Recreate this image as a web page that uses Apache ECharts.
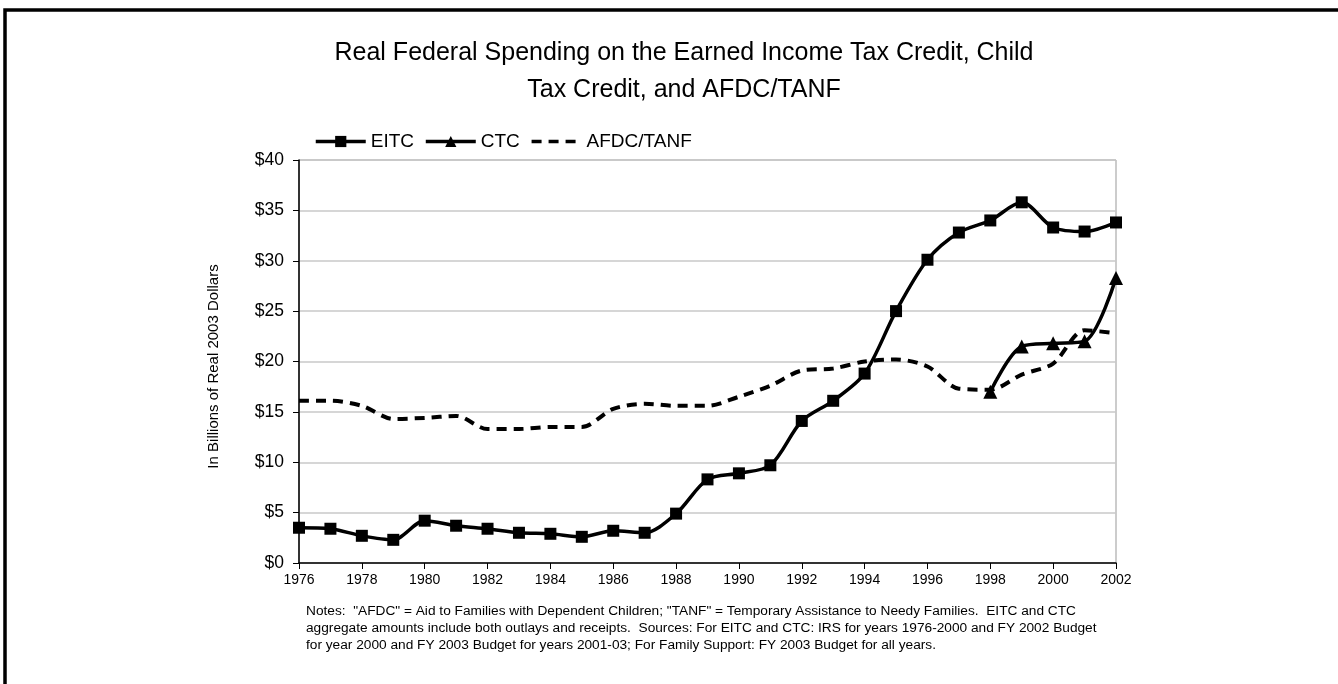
<!DOCTYPE html>
<html>
<head>
<meta charset="utf-8">
<script src="https://cdn.jsdelivr.net/npm/echarts@6/dist/echarts.min.js"></script>
<style>
html,body{margin:0;padding:0;background:#fff;}
#c{width:1338px;height:684px;}
</style>
</head>
<body>
<div id="c"></div>
<script>
const years = ['1976','1977','1978','1979','1980','1981','1982','1983','1984','1985','1986','1987','1988','1989','1990','1991','1992','1993','1994','1995','1996','1997','1998','1999','2000','2001','2002'];
const eitc = [3.5,3.4,2.7,2.3,4.2,3.7,3.4,3.0,2.9,2.6,3.2,3.0,4.9,8.3,8.9,9.7,14.1,16.1,18.8,25.0,30.1,32.8,34.0,35.8,33.3,32.9,33.8];
const ctc = [null,null,null,null,null,null,null,null,null,null,null,null,null,null,null,null,null,null,null,null,null,null,17.0,21.5,21.8,22.0,28.3];
const afdc = [16.1,16.1,15.6,14.3,14.4,14.6,13.3,13.3,13.5,13.5,15.3,15.8,15.6,15.6,16.5,17.6,19.1,19.3,20.0,20.2,19.5,17.3,17.2,18.7,19.8,23.1,22.8];
const yTicks = {min:0, max:40, interval:5};
const titleText = 'Real Federal Spending on the Earned Income Tax Credit, Child\nTax Credit, and AFDC/TANF';
const yName = 'In Billions of Real 2003 Dollars';
const notes = [
  'Notes:  "AFDC" = Aid to Families with Dependent Children; "TANF" = Temporary Assistance to Needy Families.  EITC and CTC',
  'aggregate amounts include both outlays and receipts.  Sources: For EITC and CTC: IRS for years 1976-2000 and FY 2002 Budget',
  'for year 2000 and FY 2003 Budget for years 2001-03; For Family Support: FY 2003 Budget for all years.'
];

const FONT = '"Liberation Sans", Arial, sans-serif';
const chart = echarts.init(document.getElementById('c'), null, {renderer:'canvas'});
chart.setOption({
  animation:false,
  backgroundColor:'#fff',
  textStyle:{fontFamily:FONT},
  title:{
    text:titleText,
    left:679, textAlign:'center', top:30,
    textStyle:{fontFamily:FONT, fontSize:25, fontWeight:'normal', color:'#000', lineHeight:37}
  },
  legend:{
    left:309, top:127,
    itemWidth:50, itemHeight:14, itemGap:10,
    lineStyle:{width:3.5},
    textStyle:{fontFamily:FONT, fontSize:19, color:'#000'},
    data:[
      {name:'EITC'},
      {name:'CTC'},
      {name:'AFDC/TANF', itemStyle:{color:'rgba(0,0,0,0)', borderColor:'rgba(0,0,0,0)', borderWidth:0}}
    ]
  },
  grid:{left:299, right:222, top:160, bottom:121, show:true, borderColor:'#999', borderWidth:1, containLabel:false},
  xAxis:{
    type:'category', data:years, boundaryGap:false,
    axisLine:{lineStyle:{color:'#000', width:1.5}},
    axisTick:{interval:1, length:6, lineStyle:{color:'#000'}},
    axisLabel:{interval:1, fontFamily:FONT, fontSize:14, color:'#000', margin:10},
    splitLine:{show:false}
  },
  yAxis:{
    type:'value', min:yTicks.min, max:yTicks.max, interval:yTicks.interval,
    name:yName, nameLocation:'middle', nameRotate:90, nameGap:78,
    nameTextStyle:{fontFamily:FONT, fontSize:15, color:'#000', padding:[0,10,0,0]},
    axisLine:{show:true, lineStyle:{color:'#000', width:1.5}},
    axisTick:{show:true, length:6, lineStyle:{color:'#000'}},
    axisLabel:{fontFamily:FONT, fontSize:17.5, color:'#000', margin:15, formatter:v=>'$'+v},
    splitLine:{lineStyle:{color:'#c8c8c8', width:1.5}}
  },
  series:[
    {name:'EITC', type:'line', data:eitc, smooth:0.3, symbol:'rect', symbolSize:12,
     lineStyle:{color:'#000', width:3.5}, itemStyle:{color:'#000'}, z:5},
    {name:'CTC', type:'line', data:ctc, smooth:0.3, symbol:'triangle', symbolSize:14,
     lineStyle:{color:'#000', width:3.5}, itemStyle:{color:'#000'}, connectNulls:false, z:5},
    {name:'AFDC/TANF', type:'line', data:afdc, smooth:0.3, showSymbol:false, symbol:'none',
     lineStyle:{color:'#000', width:4, type:[10,7]}, itemStyle:{color:'#000'}, z:4}
  ],
  graphic:[
    {type:'rect', shape:{x:5, y:10, width:1400, height:800}, style:{fill:null, stroke:'#000', lineWidth:3.5}, silent:true},
    {type:'text', left:306, top:603, style:{text:notes.join('\n'), font:'13.7px '+FONT, fill:'#000', lineHeight:17}}
  ]
});
</script>
</body>
</html>
